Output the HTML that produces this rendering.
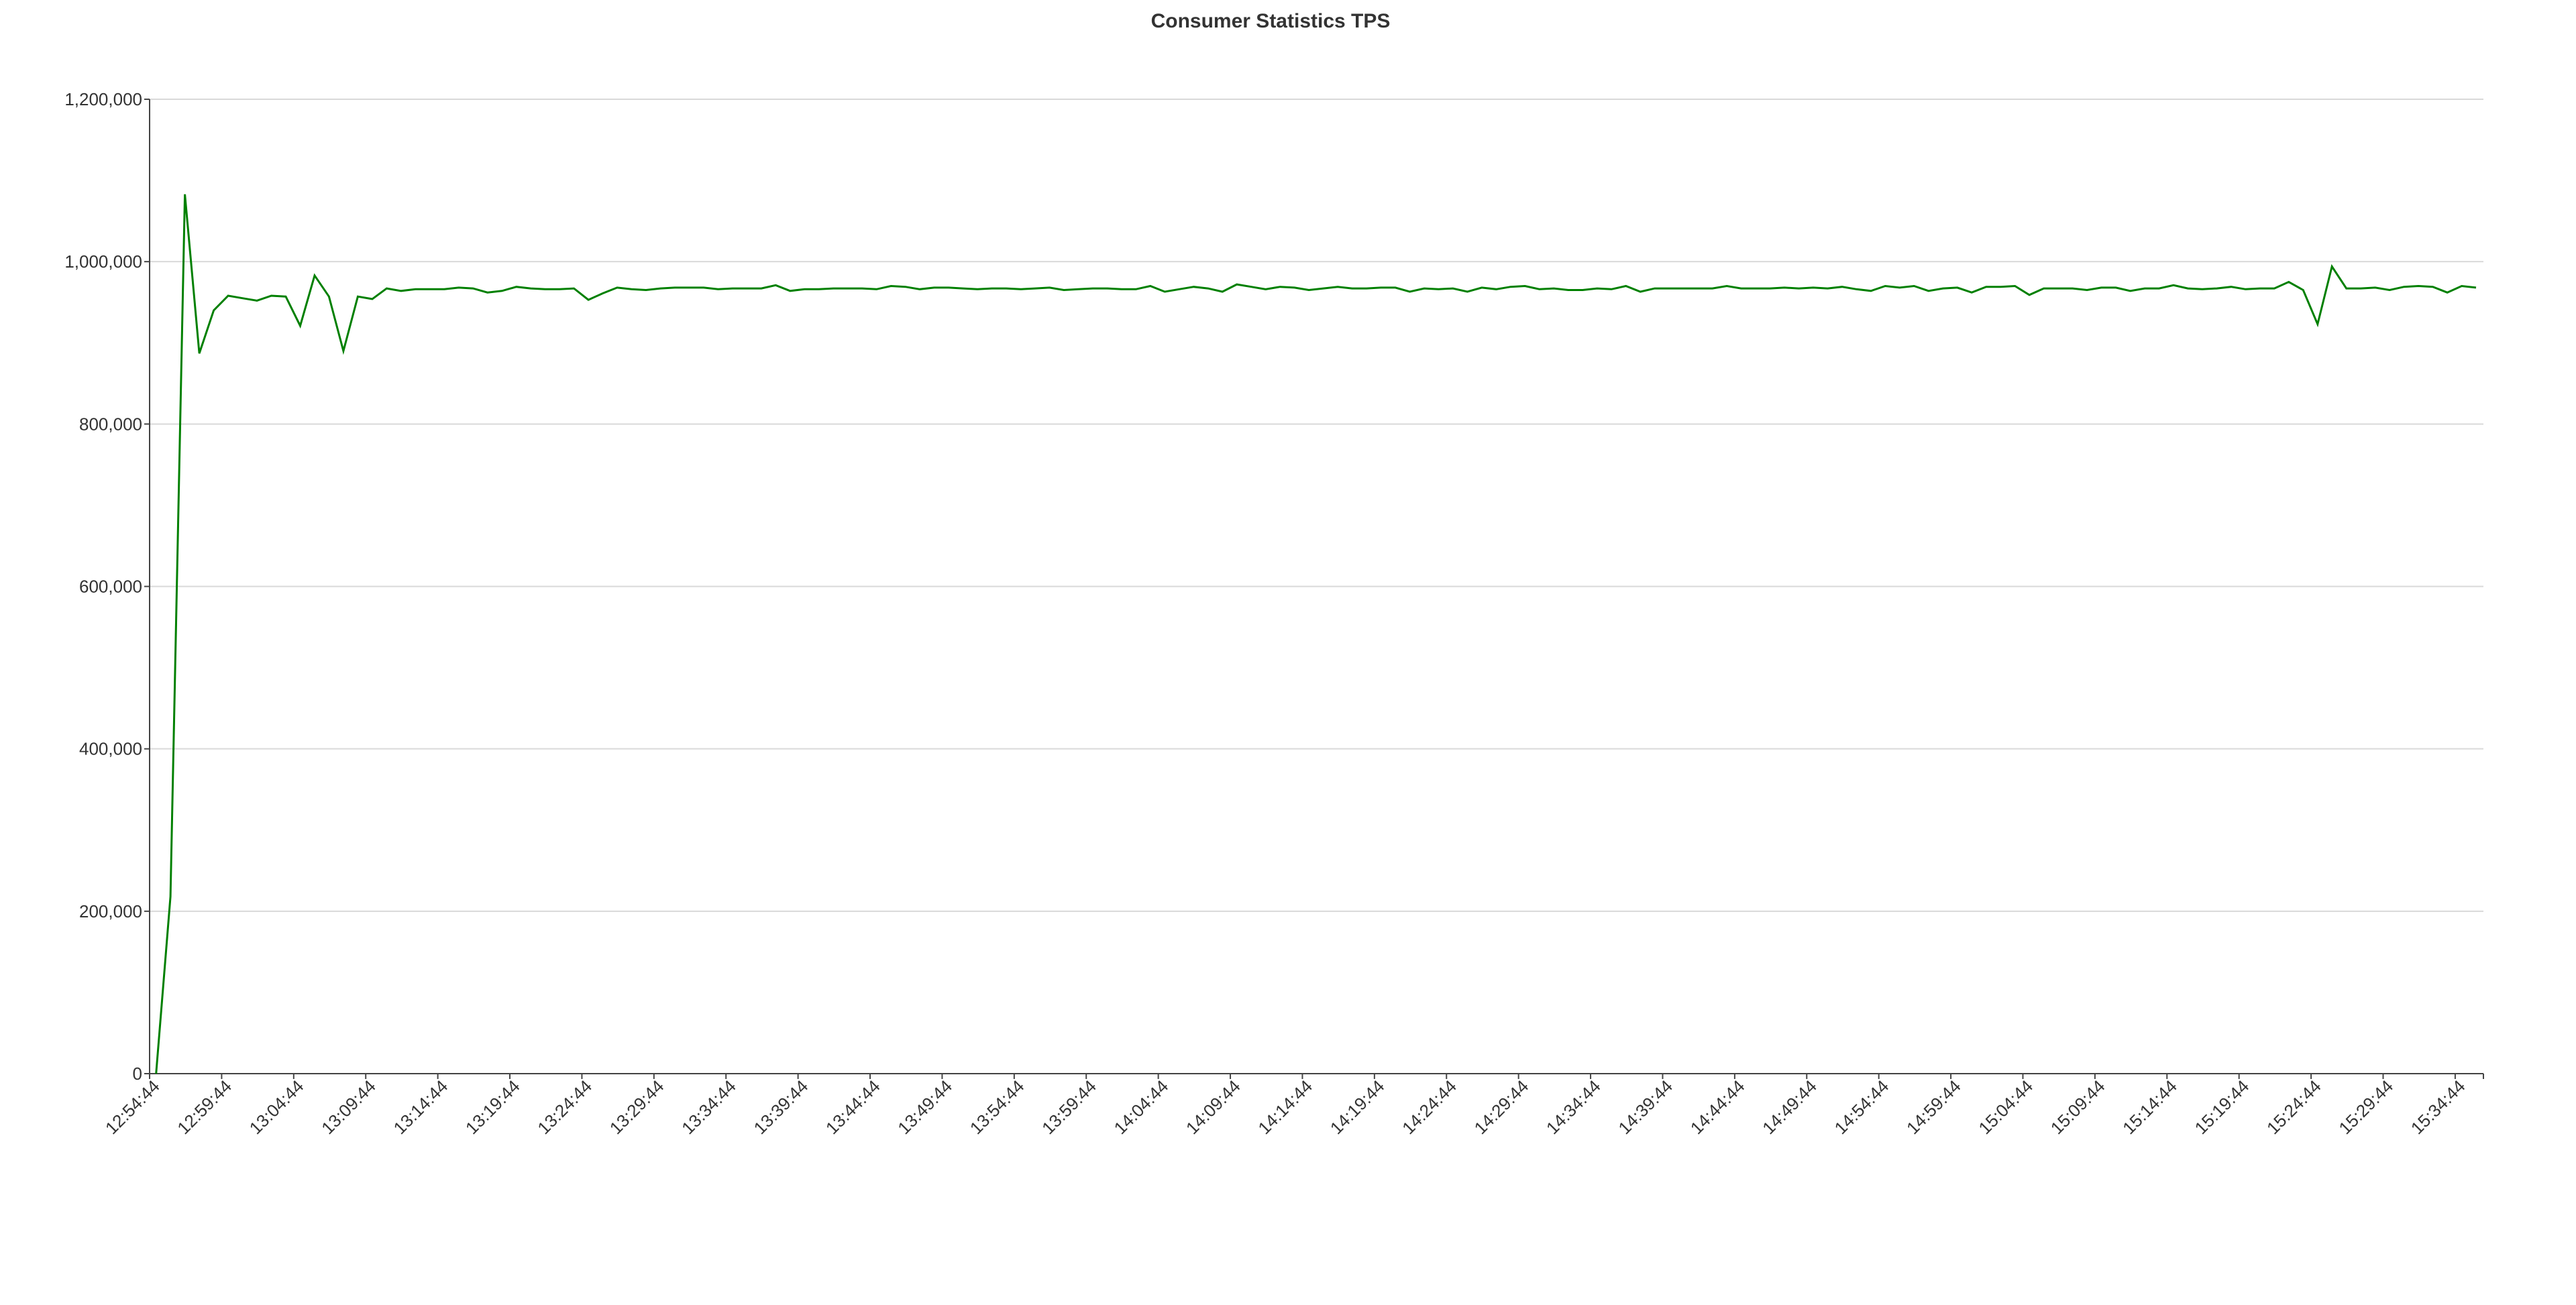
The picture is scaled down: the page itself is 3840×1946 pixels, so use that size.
<!DOCTYPE html>
<html><head><meta charset="utf-8"><title>Consumer Statistics TPS</title>
<style>
html,body{margin:0;padding:0;background:#fff;}
svg{display:block;}
text{font-family:"Liberation Sans",sans-serif;fill:#333;}
</style></head>
<body>
<svg id="chart" width="3840" height="1946" viewBox="0 0 3840 1946" xmlns="http://www.w3.org/2000/svg">
<text x="1894" y="41" text-anchor="middle" font-size="30" font-weight="bold">Consumer Statistics TPS</text>
<g id="grid"></g>
<g id="yaxis"></g>
<g id="xaxis"></g>
<g id="series"></g>
</svg>
<script>
// TPS values in thousands, one per minute starting ~12:55:11
const tpsValues = [0,218,1083,887,940,958,955,952,958,957,921,983,957,890,957,954,967,964,966,966,966,968,
967,962,964,969,967,966,966,967,953,961,968,966,965,967,968,968,968,966,967,967,967,971,964,966,966,967,967,967,966,970,969,966,
968,968,967,966,967,967,966,967,968,965,966,967,967,966,966,970,963,966,969,967,963,972,969,966,969,968,965,967,969,967,967,968,968,
963,967,966,967,963,968,966,969,970,966,967,965,965,967,966,970,963,967,967,967,967,967,970,967,967,967,968,967,968,967,969,966,
964,970,968,970,964,967,968,962,969,969,970,959,967,967,967,965,968,968,964,967,967,971,967,966,967,969,966,967,967,975,965,923,994,967,967,
968,965,969,970,969,962,970,968];
const yTickValues = [0,200000,400000,600000,800000,1000000,1200000];
const yTickLabels = ["0","200,000","400,000","600,000","800,000","1,000,000","1,200,000"];
const xTickMinutes = [0,5,10,15,20,25,30,35,40,45,50,55,60,65,70,75,80,85,90,95,100,105,110,115,120,125,130,135,140,145,150,155,160];
const xTickLabels = ["12:54:44","12:59:44","13:04:44","13:09:44","13:14:44","13:19:44","13:24:44","13:29:44","13:34:44","13:39:44","13:44:44","13:49:44","13:54:44","13:59:44","14:04:44","14:09:44","14:14:44","14:19:44","14:24:44","14:29:44","14:34:44","14:39:44","14:44:44","14:49:44","14:54:44","14:59:44","15:04:44","15:09:44","15:14:44","15:19:44","15:24:44","15:29:44","15:34:44"];
const firstPointOffsetMin = 0.45;

const X0=223, X1=3702, Y0=1601, Y1=148, MINUTES=161.96, YMAX=1200000;
const NS="http://www.w3.org/2000/svg";
function xScale(m){return X0+(m/MINUTES)*(X1-X0);}
function yScale(v){return Y0-(v/YMAX)*(Y0-Y1);}
function mk(tag,attrs,parent){const e=document.createElementNS(NS,tag);for(const k in attrs)e.setAttribute(k,attrs[k]);parent.appendChild(e);return e;}

const grid=document.getElementById('grid'), ya=document.getElementById('yaxis'), xa=document.getElementById('xaxis'), ser=document.getElementById('series');

yTickValues.forEach((v,i)=>{
  const y=yScale(v);
  if(v>0){
    const g=mk('line',{x1:X0,x2:X1,y1:y,y2:y,stroke:'#d9d9d9','stroke-width':2},grid);
    
    
  }
  const t=mk('line',{x1:X0-8,x2:X0,y1:y,y2:y,stroke:'#444','stroke-width':2},ya);
  
  
  const l=mk('text',{x:X0-11,y:y+9,'text-anchor':'end','font-size':26},ya);
  
  
  l.textContent=yTickLabels[i];
});
const yl=mk('line',{x1:X0,x2:X0,y1:Y1,y2:Y0,stroke:'#444','stroke-width':2},ya);



const xl=mk('line',{x1:X0,x2:X1,y1:Y0,y2:Y0,stroke:'#444','stroke-width':2},xa);


const xe=mk('line',{x1:X1,x2:X1,y1:Y0,y2:Y0+8,stroke:'#444','stroke-width':2},xa);


xTickMinutes.forEach((m,i)=>{
  const x=xScale(m);
  const t=mk('line',{x1:x,x2:x,y1:Y0,y2:Y0+8,stroke:'#444','stroke-width':2},xa);
  
  
  const l=mk('text',{transform:`translate(${x+10},${Y0+14}) rotate(-45)`,'text-anchor':'end','font-size':26,dy:'0.35em'},xa);
  
  
  l.textContent=xTickLabels[i];
});

const pts=tpsValues.map((v,i)=>xScale(i+firstPointOffsetMin).toFixed(1)+','+yScale(v*1000).toFixed(1)).join(' ');
const pl=mk('polyline',{points:pts,fill:'none',stroke:'#008000','stroke-width':3,'stroke-linejoin':'miter'},ser);


</script>
</body></html>
